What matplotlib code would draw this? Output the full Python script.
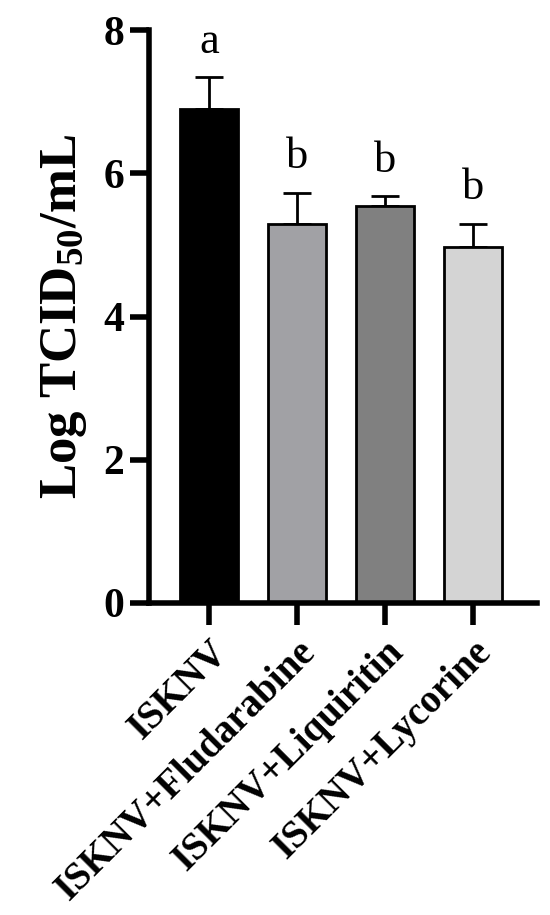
import matplotlib
matplotlib.use("Agg")
import matplotlib.pyplot as plt
import numpy as np

categories = ["ISKNV", "ISKNV+Fludarabine", "ISKNV+Liquiritin", "ISKNV+Lycorine"]
means = [6.90, 5.30, 5.54, 4.97]
errors = [0.44, 0.43, 0.14, 0.33]
letters = ["a", "b", "b", "b"]
colors = ["#000000", "#a1a1a5", "#808080", "#d4d4d4"]
yticks = [0, 2, 4, 6, 8]

plt.rcParams['font.family'] = ['Liberation Serif', 'DejaVu Serif']
plt.rcParams['mathtext.fontset'] = 'custom'
plt.rcParams['mathtext.rm'] = 'Liberation Serif:bold'
plt.rcParams['mathtext.bf'] = 'Liberation Serif:bold'
plt.rcParams['mathtext.it'] = 'Liberation Serif:bold'

fig = plt.figure(figsize=(5.5, 9.15), dpi=100)
ax = fig.add_axes([0.271, 0.341, 0.705, 0.626])

x = np.arange(len(categories))
ax.bar(x, means, width=0.66, color=colors, edgecolor="black", linewidth=2, zorder=2)
ax.errorbar(x, means, yerr=[np.zeros(len(means)), errors], fmt="none",
            ecolor="black", elinewidth=2, capsize=10, capthick=2, zorder=1)

for xi, m, e, t in zip(x, means, errors, letters):
    ax.text(xi, m + e + 0.22, t, ha="center", va="bottom", fontsize=32)

ax.set_xlim(-0.68, 3.72)
ax.set_ylim(0, 8)
ax.set_yticks(yticks)
ax.set_xticks(x)
ax.set_xticklabels(categories, rotation=45, ha="right", rotation_mode="anchor",
                   fontsize=28, fontweight="bold")
for lab in ax.get_yticklabels():
    lab.set_fontsize(30)
    lab.set_fontweight("bold")

ax.spines["top"].set_visible(False)
ax.spines["right"].set_visible(False)
ax.spines["left"].set_linewidth(4)
ax.spines["bottom"].set_linewidth(4)
ax.tick_params(axis="y", length=14, width=4, pad=4)
ax.tick_params(axis="x", length=16, width=4, pad=6)

ax.set_ylabel(r"Log TCID$_{50}$/mL", fontsize=38, fontweight="bold", labelpad=10)

fig.savefig("out.png", dpi=100)
